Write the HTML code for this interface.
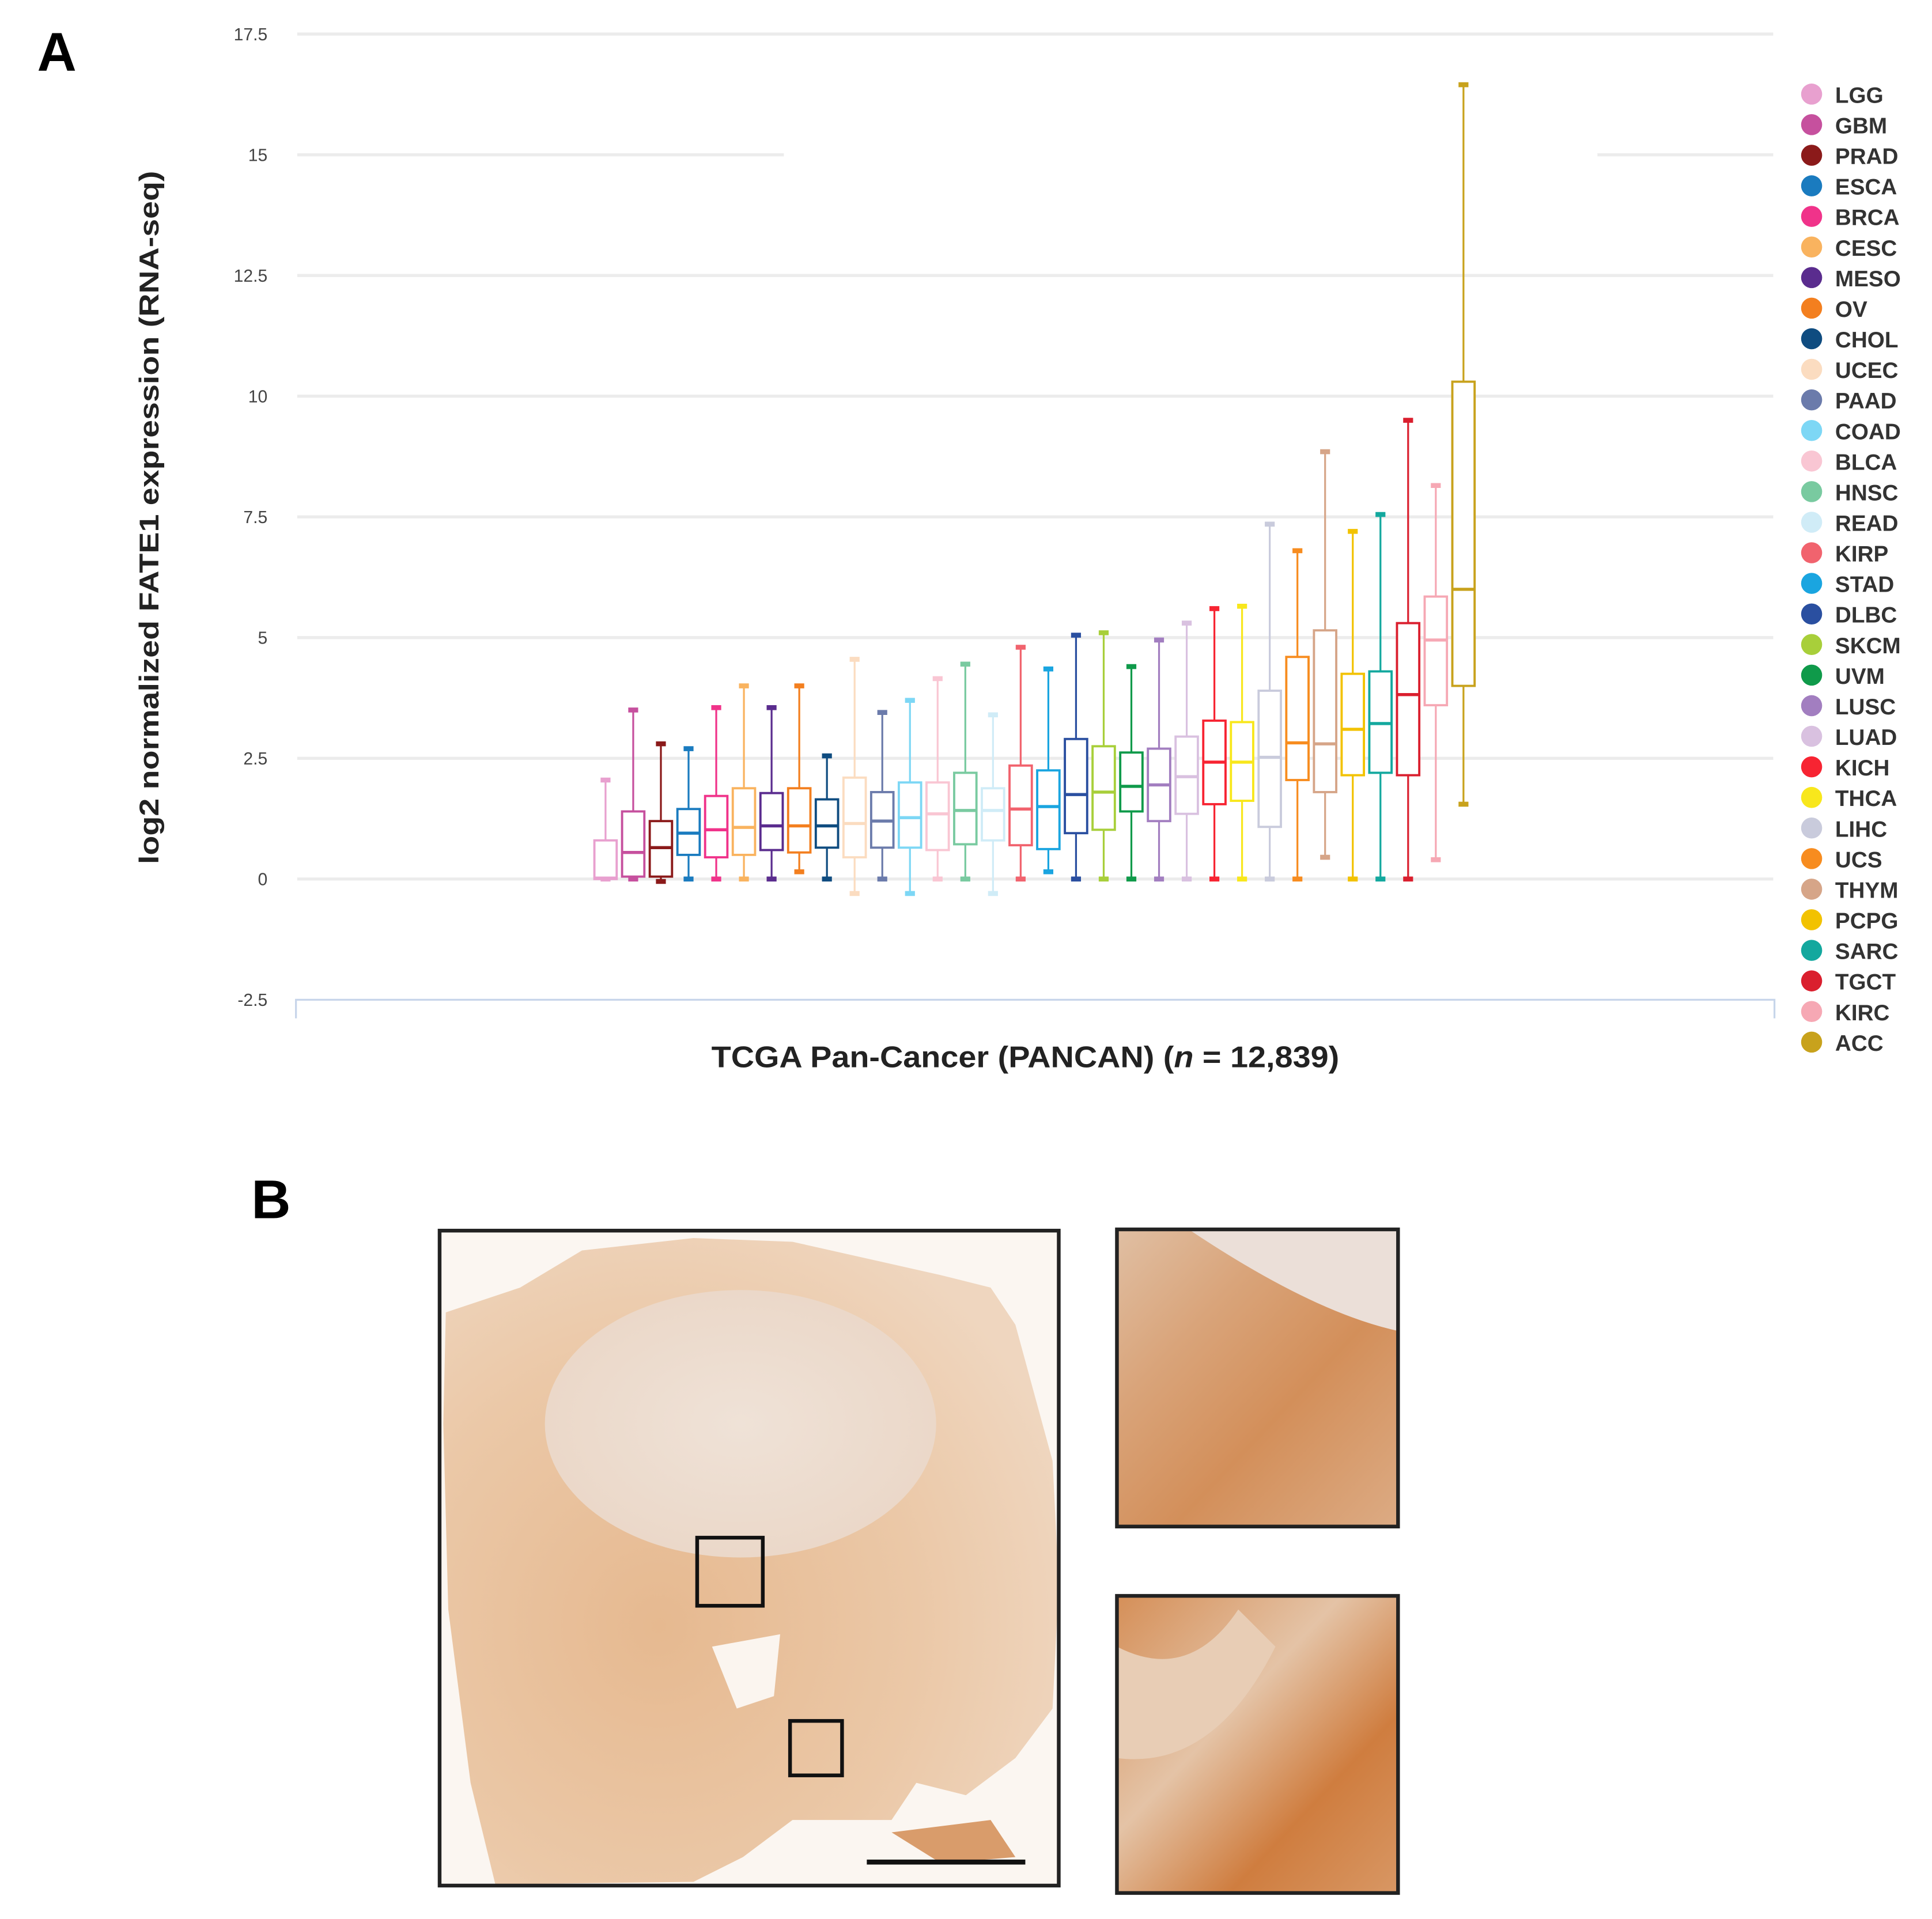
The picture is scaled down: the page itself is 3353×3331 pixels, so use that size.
<!DOCTYPE html>
<html><head><meta charset="utf-8"><style>
html,body{margin:0;padding:0;background:#fff;}
svg{display:block;}
text{font-family:"Liberation Sans",sans-serif;}
</style></head><body>
<svg id="fig" width="3353" height="3331" viewBox="0 0 1560.2 1550" xmlns="http://www.w3.org/2000/svg">
<defs>
<radialGradient id="gTissue" cx="0.35" cy="0.6" r="0.7">
<stop offset="0" stop-color="#e6b990"/><stop offset="0.6" stop-color="#ebc8a7"/><stop offset="1" stop-color="#efd6bf"/>
</radialGradient>
<radialGradient id="gInner" cx="0.5" cy="0.5" r="0.6">
<stop offset="0" stop-color="#efe2d7"/><stop offset="1" stop-color="#ead6c6"/>
</radialGradient>
<linearGradient id="gZ1" x1="0" y1="0" x2="1" y2="1">
<stop offset="0" stop-color="#e0bfa3"/><stop offset="0.3" stop-color="#d9a47a"/><stop offset="0.6" stop-color="#d38f5a"/><stop offset="1" stop-color="#dcab84"/>
</linearGradient>
<linearGradient id="gZ2" x1="0" y1="0" x2="1" y2="1">
<stop offset="0" stop-color="#d58f58"/><stop offset="0.4" stop-color="#e4c3a6"/><stop offset="0.7" stop-color="#cf7d3f"/><stop offset="1" stop-color="#d89764"/>
</linearGradient>
</defs>
<text x="30" y="57" font-size="44" font-weight="bold">A</text>
<text x="203" y="984" font-size="44" font-weight="bold">B</text>
<g id="chart"></g>
<g id="legend"></g>
<text transform="translate(128,418) rotate(-90)" text-anchor="middle" font-size="22" font-weight="bold" fill="#222" textLength="560" lengthAdjust="spacingAndGlyphs">log2 normalized FATE1 expression (RNA-seq)</text>
<text x="828" y="862" text-anchor="middle" font-size="24" font-weight="bold" fill="#222" textLength="507" lengthAdjust="spacingAndGlyphs">TCGA Pan-Cancer (PANCAN) (<tspan font-style="italic">n</tspan> = 12,839)</text>

<g>
<rect x="355" y="994" width="500" height="529" fill="#fbf6f1"/>
<path d="M360 1060 L420 1040 L470 1010 L560 1000 L640 1003 L760 1030 L800 1040 L820 1070 L850 1180 L855 1280 L850 1380 L820 1420 L780 1450 L740 1440 L720 1470 L640 1470 L600 1500 L560 1520 L400 1522 L380 1440 L362 1300 L358 1150 Z" fill="url(#gTissue)"/>
<ellipse cx="598" cy="1150" rx="158" ry="108" fill="url(#gInner)"/>
<path d="M575 1330 L630 1320 L625 1370 L595 1380 Z" fill="#fbf5ef"/>
<path d="M720 1480 L800 1470 L820 1500 L760 1505 Z" fill="#d99c6b"/>
<rect x="563" y="1242" width="53" height="55" fill="none" stroke="#111" stroke-width="3"/>
<rect x="638" y="1390" width="42" height="44" fill="none" stroke="#111" stroke-width="3"/>
<line x1="700" y1="1504" x2="828" y2="1504" stroke="#111" stroke-width="4"/>
<rect x="355" y="994" width="500" height="529" fill="none" stroke="#222" stroke-width="3"/>
</g>
<g>
<rect x="902" y="993" width="227" height="240" fill="url(#gZ1)"/>
<path d="M960 993 L1129 993 L1129 1075 Q1060 1060 960 993 Z" fill="#ebdfd8"/>
<rect x="902" y="993" width="227" height="240" fill="none" stroke="#222" stroke-width="3"/>
</g>
<g>
<rect x="902" y="1289" width="227" height="240" fill="url(#gZ2)"/>
<path d="M902 1330 Q960 1360 1000 1300 L1030 1330 Q980 1430 902 1420 Z" fill="#e8cdb5"/>
<rect x="902" y="1289" width="227" height="240" fill="none" stroke="#222" stroke-width="3"/>
</g>
</svg>
<script>
const cancers=["LGG","GBM","PRAD","ESCA","BRCA","CESC","MESO","OV","CHOL","UCEC","PAAD","COAD","BLCA","HNSC","READ","KIRP","STAD","DLBC","SKCM","UVM","LUSC","LUAD","KICH","THCA","LIHC","UCS","THYM","PCPG","SARC","TGCT","KIRC","ACC"];
const colors=["#e8a0cf","#c6509e","#8b1a1a","#1a7bbf","#f0338a","#f9b35f","#5a2c8e","#f37f1f","#0f4c80","#fbdcc0","#6b7bab","#7dd7f5","#f9c6d3","#79caa0","#d0ecf7","#f1636e","#1aa5e0","#2a4fa0","#a8cf3a","#0f9a4a","#a27ec0","#d9c1e0","#f72432","#f8e71c","#c9cbdc","#f78c1f","#d6a588","#f2c200","#13a89e","#da1f2e","#f6a8b4","#c8a21c"];
const mins=[0,0,-0.05,0,0,0,0,0.15,0,-0.3,0,-0.3,0,0,-0.3,0,0.15,0,0,0,0,0,0,0,0,0,0.45,0,0,0,0.4,1.55];
const q1s=[0,0.05,0.05,0.5,0.45,0.5,0.6,0.55,0.65,0.45,0.65,0.65,0.6,0.72,0.8,0.7,0.62,0.95,1.02,1.4,1.2,1.35,1.55,1.62,1.08,2.05,1.8,2.15,2.2,2.15,3.6,4.0];
const medians=[0.02,0.55,0.65,0.95,1.02,1.07,1.1,1.1,1.1,1.15,1.2,1.27,1.35,1.42,1.42,1.45,1.5,1.75,1.8,1.92,1.95,2.12,2.42,2.42,2.52,2.82,2.8,3.1,3.22,3.82,4.95,6.0];
const q3s=[0.8,1.4,1.2,1.45,1.72,1.88,1.78,1.88,1.65,2.1,1.8,2.0,2.0,2.2,1.88,2.35,2.25,2.9,2.75,2.62,2.7,2.95,3.28,3.25,3.9,4.6,5.15,4.25,4.3,5.3,5.85,10.3];
const maxs=[2.05,3.5,2.8,2.7,3.55,4.0,3.55,4.0,2.55,4.55,3.45,3.7,4.15,4.45,3.4,4.8,4.35,5.05,5.1,4.4,4.95,5.3,5.6,5.65,7.35,6.8,8.85,7.2,7.55,9.5,8.15,16.45];
const yTicks=[-2.5,0,2.5,5,7.5,10,12.5,15,17.5];
const yTickLabels=["-2.5","0","2.5","5","7.5","10","12.5","15","17.5"];
const NS="http://www.w3.org/2000/svg";
const chart=document.getElementById('chart');
const legend=document.getElementById('legend');
const y=v=>710-v*39;
const x=i=>489+i*22.35;
function mk(tag,attrs,parent){const e=document.createElementNS(NS,tag);for(const k in attrs)e.setAttribute(k,attrs[k]);parent.appendChild(e);return e;}
yTicks.forEach((t,i)=>{
  if(t>-2.5){
    if(t===15){
      const a=mk('line',{x1:240,x2:633,y1:y(t),y2:y(t),stroke:'#ececec','stroke-width':2.5},chart);
      
      
      const b=mk('line',{x1:1290,x2:1432,y1:y(t),y2:y(t),stroke:'#ececec','stroke-width':2.5},chart);
      
      
    } else {
      const g=mk('line',{x1:240,x2:1432,y1:y(t),y2:y(t),stroke:'#ececec','stroke-width':2.5},chart);
      
      
    }
  }
  const tl=mk('text',{x:216,y:y(t)+5,'text-anchor':'end','font-size':14,fill:'#444'},chart);
  tl.textContent=yTickLabels[i];
  
  
});
const ax=mk('path',{d:`M239 ${y(-2.5)+15} V${y(-2.5)} H1433 V${y(-2.5)+15}`,fill:'none',stroke:'#c7d5ea','stroke-width':1.5},chart);


cancers.forEach((c,i)=>{
  const cx=x(i),w=18,col=colors[i];
  const g=mk('g',{},chart);
  
  
  mk('line',{x1:cx,x2:cx,y1:y(maxs[i]),y2:y(q3s[i]),stroke:col,'stroke-width':1.5},g);
  mk('line',{x1:cx,x2:cx,y1:y(q1s[i]),y2:y(mins[i]),stroke:col,'stroke-width':1.5},g);
  mk('line',{x1:cx-4,x2:cx+4,y1:y(maxs[i]),y2:y(maxs[i]),stroke:col,'stroke-width':4},g);
  mk('line',{x1:cx-4,x2:cx+4,y1:y(mins[i]),y2:y(mins[i]),stroke:col,'stroke-width':4},g);
  mk('rect',{x:cx-w/2,y:y(q3s[i]),width:w,height:Math.max(1,y(q1s[i])-y(q3s[i])),fill:'#fff',stroke:col,'stroke-width':1.8},g);
  mk('line',{x1:cx-w/2,x2:cx+w/2,y1:y(medians[i]),y2:y(medians[i]),stroke:col,'stroke-width':2.5},g);
  const ly=76+i*24.7;
  const le=mk('g',{},legend);
  
  
  mk('circle',{cx:1463,cy:ly,r:8.5,fill:col},le);
  const t=mk('text',{x:1482,y:ly+7,'font-size':18,'font-weight':'bold',fill:'#333'},le);
  t.textContent=c;
});
</script>
</body></html>
